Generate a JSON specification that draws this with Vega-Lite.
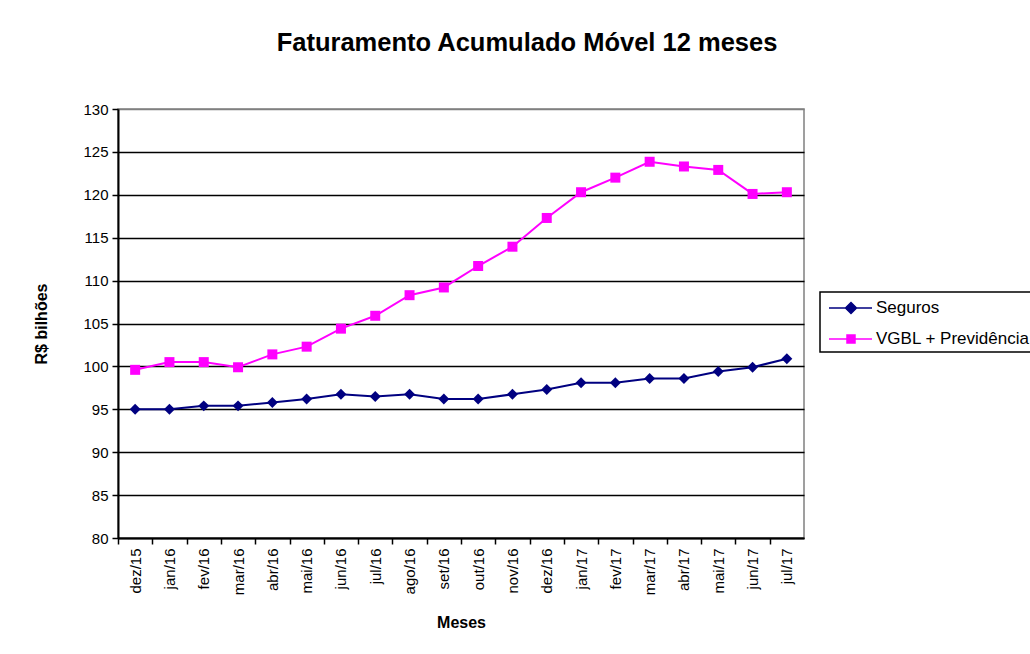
{
  "$schema": "https://vega.github.io/schema/vega-lite/v6.json",
  "width": 686,
  "height": 429,
  "autosize": {"type": "none"},
  "padding": {"left": 118, "top": 109, "right": 226, "bottom": 116},
  "background": "#ffffff",
  "config": {
    "font": "Liberation Sans",
    "view": {"stroke": "#808080", "strokeWidth": 1.5}
  },
  "title": {
    "text": "Faturamento Acumulado Móvel 12 meses",
    "font": "Liberation Sans",
    "fontSize": 25.5,
    "fontWeight": "bold",
    "color": "#000000",
    "anchor": "middle",
    "frame": "group",
    "dx": 66,
    "baseline": "alphabetic",
    "offset": 26
  },
  "data": {
    "values": [
      {"mes": "dez/15", "serie": "Seguros", "valor": 95.0},
      {"mes": "jan/16", "serie": "Seguros", "valor": 95.0},
      {"mes": "fev/16", "serie": "Seguros", "valor": 95.4},
      {"mes": "mar/16", "serie": "Seguros", "valor": 95.4},
      {"mes": "abr/16", "serie": "Seguros", "valor": 95.8},
      {"mes": "mai/16", "serie": "Seguros", "valor": 96.2},
      {"mes": "jun/16", "serie": "Seguros", "valor": 96.75},
      {"mes": "jul/16", "serie": "Seguros", "valor": 96.5},
      {"mes": "ago/16", "serie": "Seguros", "valor": 96.75},
      {"mes": "set/16", "serie": "Seguros", "valor": 96.2},
      {"mes": "out/16", "serie": "Seguros", "valor": 96.2},
      {"mes": "nov/16", "serie": "Seguros", "valor": 96.75},
      {"mes": "dez/16", "serie": "Seguros", "valor": 97.3},
      {"mes": "jan/17", "serie": "Seguros", "valor": 98.1},
      {"mes": "fev/17", "serie": "Seguros", "valor": 98.1},
      {"mes": "mar/17", "serie": "Seguros", "valor": 98.6},
      {"mes": "abr/17", "serie": "Seguros", "valor": 98.6},
      {"mes": "mai/17", "serie": "Seguros", "valor": 99.4},
      {"mes": "jun/17", "serie": "Seguros", "valor": 99.9},
      {"mes": "jul/17", "serie": "Seguros", "valor": 100.9},
      {"mes": "dez/15", "serie": "VGBL + Previdência", "valor": 99.6},
      {"mes": "jan/16", "serie": "VGBL + Previdência", "valor": 100.5},
      {"mes": "fev/16", "serie": "VGBL + Previdência", "valor": 100.5},
      {"mes": "mar/16", "serie": "VGBL + Previdência", "valor": 99.9},
      {"mes": "abr/16", "serie": "VGBL + Previdência", "valor": 101.4},
      {"mes": "mai/16", "serie": "VGBL + Previdência", "valor": 102.3},
      {"mes": "jun/16", "serie": "VGBL + Previdência", "valor": 104.4},
      {"mes": "jul/16", "serie": "VGBL + Previdência", "valor": 105.9},
      {"mes": "ago/16", "serie": "VGBL + Previdência", "valor": 108.3},
      {"mes": "set/16", "serie": "VGBL + Previdência", "valor": 109.2},
      {"mes": "out/16", "serie": "VGBL + Previdência", "valor": 111.7},
      {"mes": "nov/16", "serie": "VGBL + Previdência", "valor": 113.95},
      {"mes": "dez/16", "serie": "VGBL + Previdência", "valor": 117.3},
      {"mes": "jan/17", "serie": "VGBL + Previdência", "valor": 120.3},
      {"mes": "fev/17", "serie": "VGBL + Previdência", "valor": 122.0},
      {"mes": "mar/17", "serie": "VGBL + Previdência", "valor": 123.85},
      {"mes": "abr/17", "serie": "VGBL + Previdência", "valor": 123.3},
      {"mes": "mai/17", "serie": "VGBL + Previdência", "valor": 122.9},
      {"mes": "jun/17", "serie": "VGBL + Previdência", "valor": 120.1},
      {"mes": "jul/17", "serie": "VGBL + Previdência", "valor": 120.3}
    ]
  },
  "encoding": {
    "x": {
      "field": "mes",
      "type": "ordinal",
      "sort": null,
      "scale": {"type": "point", "padding": 0.5},
      "axis": {
        "title": "Meses",
        "titleFont": "Liberation Sans",
        "titleFontSize": 16,
        "titleFontWeight": "bold",
        "titleColor": "#000000",
        "titlePadding": 20,
        "labelAngle": -90,
        "labelFont": "Liberation Sans",
        "labelFontSize": 15,
        "labelColor": "#000000",
        "labelPadding": 4,
        "tickSize": 6,
        "tickColor": "#000000",
        "tickWidth": 1.5,
        "tickOffset": -17.15,
        "labelOffset": 17.15,
        "domainColor": "#000000",
        "domainWidth": 2,
        "grid": false
      }
    },
    "y": {
      "field": "valor",
      "type": "quantitative",
      "scale": {"domain": [80, 130], "nice": false, "zero": false},
      "axis": {
        "title": "R$ bilhões",
        "titleFont": "Liberation Sans",
        "titleFontSize": 16,
        "titleFontWeight": "bold",
        "titleColor": "#000000",
        "titlePadding": 33,
        "values": [80, 85, 90, 95, 100, 105, 110, 115, 120, 125, 130],
        "labelFont": "Liberation Sans",
        "labelFontSize": 15,
        "labelColor": "#000000",
        "labelPadding": 4,
        "tickSize": 6,
        "tickColor": "#000000",
        "tickWidth": 1.5,
        "domainColor": "#000000",
        "domainWidth": 2,
        "grid": true,
        "gridColor": {"condition": {"test": "datum.value === 130", "value": "#808080"}, "value": "#000000"},
        "gridWidth": 1.6,
        "gridOpacity": 1
      }
    },
    "color": {
      "field": "serie",
      "type": "nominal",
      "scale": {"domain": ["Seguros", "VGBL + Previdência"], "range": ["#000080", "#FF00FF"]},
      "legend": {
        "title": null,
        "orient": "none",
        "legendX": 702,
        "legendY": 183,
        "strokeColor": "#000000",
        "fillColor": "#ffffff",
        "padding": 5,
        "labelFont": "Liberation Sans",
        "labelFontSize": 17,
        "labelColor": "#000000",
        "labelOffset": 29,
        "symbolSize": 400,
        "symbolStrokeWidth": 1.5,
        "rowPadding": 11,
        "encode": {
          "legend": {"update": {"strokeWidth": {"value": 1.5}}},
          "symbols": {
            "update": {
              "shape": {"signal": "datum.value === 'Seguros' ? 'M-0.7,0H3.6M1.5,-0.55L2.05,0L1.5,0.55L0.95,0Z' : 'M-0.7,0H3.6M1.1,-0.4H1.9V0.4H1.1Z'"},
              "fill": {"signal": "datum.value === 'Seguros' ? '#000080' : '#FF00FF'"},
              "stroke": {"signal": "datum.value === 'Seguros' ? '#000080' : '#FF00FF'"},
              "strokeWidth": {"value": 1.5},
              "size": {"value": 400},
              "fillOpacity": {"value": 1},
              "strokeOpacity": {"value": 1},
              "opacity": {"value": 1}
            }
          }
        }
      }
    }
  },
  "layer": [
    {
      "mark": {"type": "line", "strokeWidth": 2}
    },
    {
      "transform": [{"filter": "datum.serie === 'Seguros'"}],
      "mark": {"type": "point", "filled": true, "opacity": 1, "shape": "diamond", "size": 120}
    },
    {
      "transform": [{"filter": "datum.serie !== 'Seguros'"}],
      "mark": {"type": "point", "filled": true, "opacity": 1, "shape": "square", "size": 100}
    }
  ]
}
